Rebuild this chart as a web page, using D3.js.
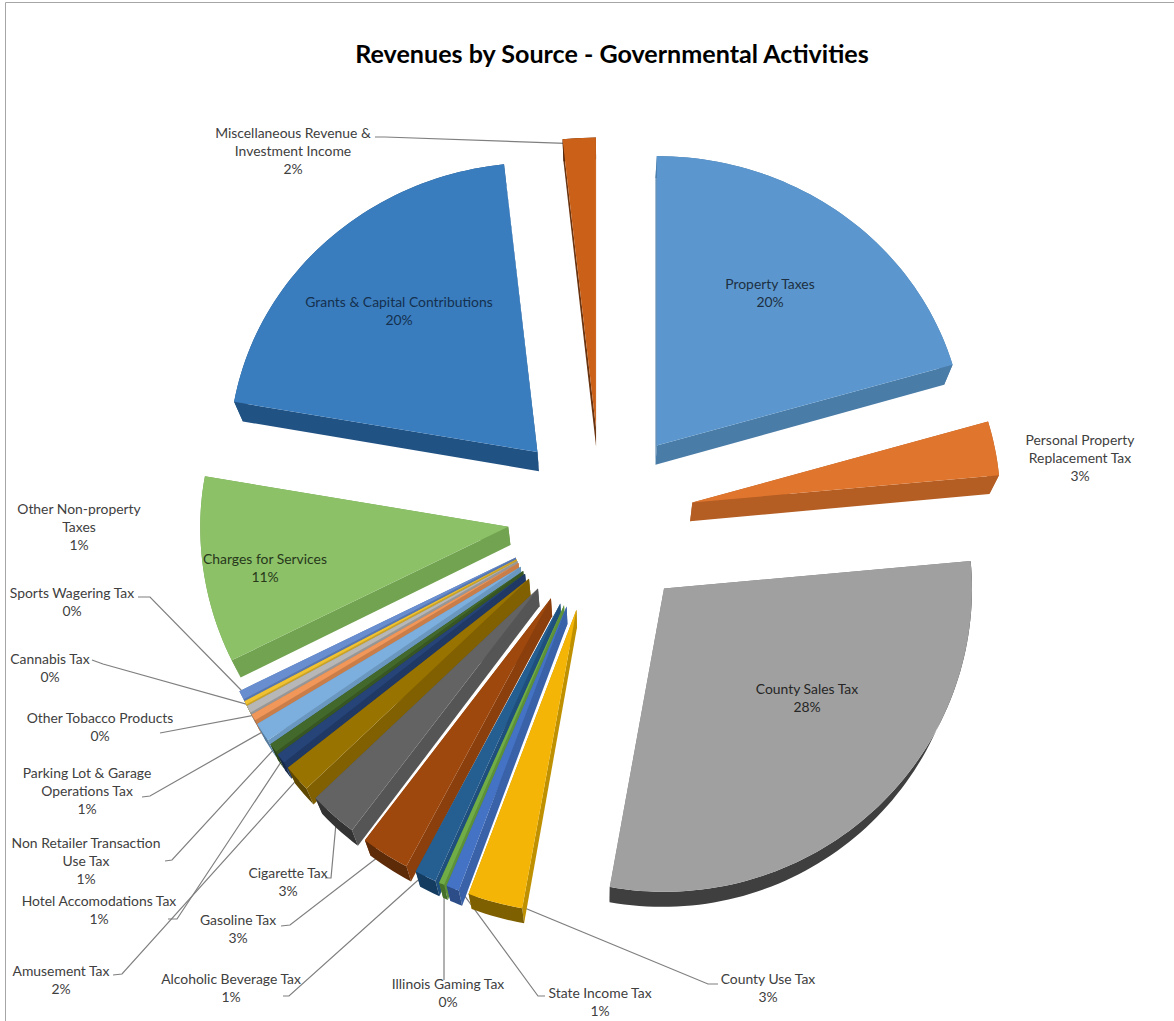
<!DOCTYPE html>
<html>
<head>
<meta charset="utf-8">
<style>
  html, body { margin: 0; padding: 0; background: #fff; }
  svg { display: block; }
  text { font-family: Lato, "Open Sans", sans-serif; }
</style>
<script src="https://cdn.jsdelivr.net/npm/d3@7/dist/d3.min.js"></script>
</head>
<body>
<svg id="chart" width="1174" height="1021"></svg>
<script>
// Revenue sources, clockwise from twelve o'clock.
const sources = [
  "Property Taxes", "Personal Property Replacement Tax", "County Sales Tax", "County Use Tax",
  "State Income Tax", "Illinois Gaming Tax", "Alcoholic Beverage Tax", "Gasoline Tax",
  "Cigarette Tax", "Amusement Tax", "Hotel Accomodations Tax", "Non Retailer Transaction Use Tax",
  "Parking Lot & Garage Operations Tax", "Other Tobacco Products", "Cannabis Tax",
  "Sports Wagering Tax", "Other Non-property Taxes", "Charges for Services",
  "Grants & Capital Contributions", "Miscellaneous Revenue & Investment Income"
];
const shares = [20.49, 3.0, 28.49, 2.9, 0.68, 0.28, 1.15, 2.6, 2.6, 1.5, 0.55, 0.5, 1.05, 0.36, 0.4, 0.2, 0.5, 10.52, 20.49, 1.73];
const shareLabels = ["20%", "3%", "28%", "3%", "1%", "0%", "1%", "3%", "3%", "2%", "1%", "1%", "1%", "0%", "0%", "0%", "1%", "11%", "20%", "2%"];

// Face, radial wall and outer rim colours for each source.
const faceColors = ["#5b97ce", "#e0762e", "#a0a0a0", "#f4b506", "#4472c4", "#70ad47", "#255e91", "#9e480e", "#636363", "#997300", "#264478", "#43682b", "#7cafdd", "#f1975a", "#b7b7b7", "#f0c232", "#698ed0", "#8cc168", "#3a7dbe", "#cb6119"];
const wallColors = ["#4a7ca8", "#b55e24", "#808080", "#bf9000", "#3a62a8", "#5c9039", "#1f4f7c", "#8a3f0c", "#555555", "#806000", "#1f3864", "#375623", "#6a97bf", "#c97e4a", "#979797", "#c9a228", "#5877ae", "#72a350", "#215284", "#6b3410"];
const rimColors  = ["#4a7ca8", "#b55e24", "#3f3f3f", "#7f6000", "#2c4d87", "#44702a", "#143c61", "#5e2b08", "#333333", "#5e4700", "#172a4c", "#2a421a", "#547a9c", "#a0643a", "#777777", "#9e7f1f", "#46608e", "#72a350", "#215284", "#4f260c"];

// Label text lines and where each block sits.
const labelLines = [
  ["Property Taxes"], ["Personal Property", "Replacement Tax"], ["County Sales Tax"], ["County Use Tax"],
  ["State Income Tax"], ["Illinois Gaming Tax"], ["Alcoholic Beverage Tax"], ["Gasoline Tax"],
  ["Cigarette Tax"], ["Amusement Tax"], ["Hotel Accomodations Tax"], ["Non Retailer Transaction", "Use Tax"],
  ["Parking Lot & Garage", "Operations Tax"], ["Other Tobacco Products"], ["Cannabis Tax"],
  ["Sports Wagering Tax"], ["Other Non-property", "Taxes"], ["Charges for Services"],
  ["Grants & Capital Contributions"], ["Miscellaneous Revenue &", "Investment Income"]
];
const labelX = [770, 1080, 807, 768, 600, 448, 231, 238, 288, 61, 99, 86, 87, 100, 50, 72, 79, 265, 399, 293];
const labelY = [284, 440, 689, 979, 993, 984, 979, 920, 873, 971, 901, 843, 773, 718, 659, 593, 509, 559, 302, 133];
const labelInk = ["#1d2f42", "#404040", "#262626", "#404040", "#404040", "#404040", "#404040", "#404040", "#404040", "#404040", "#404040", "#404040", "#404040", "#404040", "#404040", "#404040", "#404040", "#27381b", "#14304f", "#404040"];

// Leader elbows beside each outside label; the far end comes from the slice.
const leaderStart = [null, null, null, [718, 984], [545, 996], [444, 980], [283, 996], [281, 926], [325, 878], [113, 975], [168, 919], [165, 861], [142, 797], [160, 733], [92, 660], [138, 597], null, null, null, [375, 137]];
const leaderBend  = [null, null, null, [708, 984], [538, 996], [444, 960], [289, 996], [290, 925], [331, 878], [122, 974], [177, 919], [172, 860], [150, 796], [160, 733], [103, 664], [150, 597], null, null, null, [385, 137]];

const width = 1174, height = 1021;
const svg = d3.select("#chart");

// Pie centre, shared explosion and the slightly foreshortened face radii.
const cx = 601, cy = 520;
const explode = 93;
const radius = d3.scaleLinear().domain([0, 1]).range([0, 308]);
const squashUp = 0.94, squashDown = 0.985;
const depth = d3.scaleLinear().domain([140, 900]).range([22, 15]).clamp(true);
const lean = 0.024;

const deg = Math.PI / 180;
const bump = (a, from, span, gain) => {
  const t = (a - from) / span;
  return t > 0 && t < 1 ? gain * Math.sin(Math.PI * t) : 0;
};
// The near side of the tilted pie opens up a little on screen.
const viewAngle = a => a + bump(a, 85 * deg, 195 * deg, 3 * deg);
// Slices on the far left are pushed out slightly above their own bisector.
const pushAngle = a => a + bump(a, 215 * deg, 90 * deg, 4 * deg);

const pie = d3.pie().sort(null).value(d => d.share);
const slices = pie(sources.map((name, i) => ({
  name, i, share: shares[i], pct: shareLabels[i], lines: labelLines[i]
}))).map(s => {
  const from = viewAngle(s.startAngle), to = viewAngle(s.endAngle);
  const mid = (from + to) / 2, push = pushAngle(mid);
  return { ...s, from, to, mid, apex: [cx + explode * Math.sin(push), cy - explode * Math.cos(push)] };
});

function onFace(s, angle, t) {
  const c = Math.cos(angle);
  return [
    s.apex[0] + radius(t) * Math.sin(angle),
    s.apex[1] - radius(t) * c * (c > 0 ? squashUp : squashDown)
  ];
}
const under = p => [p[0] + lean * (cx - p[0]), p[1] + depth(p[1])];
function rimPoints(s) {
  const n = Math.max(3, Math.ceil((s.to - s.from) * 40));
  return d3.range(n + 1).map(k => onFace(s, s.from + (s.to - s.from) * k / n, 1));
}

const closed = d3.line().curve(d3.curveLinearClosed);

// Frame edges along the top and left.
svg.append("path").attr("d", `M5.5,${height}V2.5H${width}`).attr("fill", "none").attr("stroke", "#a6a6a6").attr("stroke-width", 1);

svg.append("text").attr("x", 612).attr("y", 63).attr("text-anchor", "middle")
  .attr("font-size", 25.1).attr("font-weight", 700).attr("fill", "#000")
  .text("Revenues by Source - Governmental Activities");

// Leader lines run under the slices, from beside a label to inside the slice edge.
const polyline = d3.line();
svg.append("g").selectAll("path").data(slices.filter(d => leaderStart[d.data.i])).join("path")
  .attr("fill", "none").attr("stroke", "#7f7f7f").attr("stroke-width", 1.2)
  .attr("d", d => polyline([leaderStart[d.data.i], leaderBend[d.data.i], onFace(d, d.mid, 0.98)]));

// Lower slices paint over the walls of the ones above them, so go anticlockwise.
const order = slices.slice().reverse();
const groups = svg.append("g").selectAll("g").data(order).join("g");

groups.append("path").attr("fill", d => wallColors[d.data.i]).attr("d", d => {
  const a = onFace(d, d.from, 1);
  return closed([d.apex, a, under(a), under(d.apex)]);
});
groups.append("path").attr("fill", d => wallColors[d.data.i]).attr("d", d => {
  const a = onFace(d, d.to, 1);
  return closed([d.apex, a, under(a), under(d.apex)]);
});
groups.append("path").attr("fill", d => rimColors[d.data.i]).attr("d", d => {
  const r = rimPoints(d);
  return closed(r.concat(r.slice().reverse().map(under)));
});
groups.append("path").attr("fill", d => faceColors[d.data.i]).attr("d", d => closed([d.apex].concat(rimPoints(d))));

// Labels: name lines, then the share on its own line.
const lineStep = 18;
const labels = svg.append("g").selectAll("text").data(slices).join("text")
  .attr("text-anchor", "middle").attr("font-size", 13.9)
  .attr("fill", d => labelInk[d.data.i]);
labels.selectAll("tspan").data(d => d.data.lines.concat(d.data.pct).map((t, k) => ({ t, k, i: d.data.i })))
  .join("tspan")
  .attr("x", d => labelX[d.i])
  .attr("y", d => labelY[d.i] + 5 + d.k * lineStep)
  .text(d => d.t);
</script>
</body>
</html>
